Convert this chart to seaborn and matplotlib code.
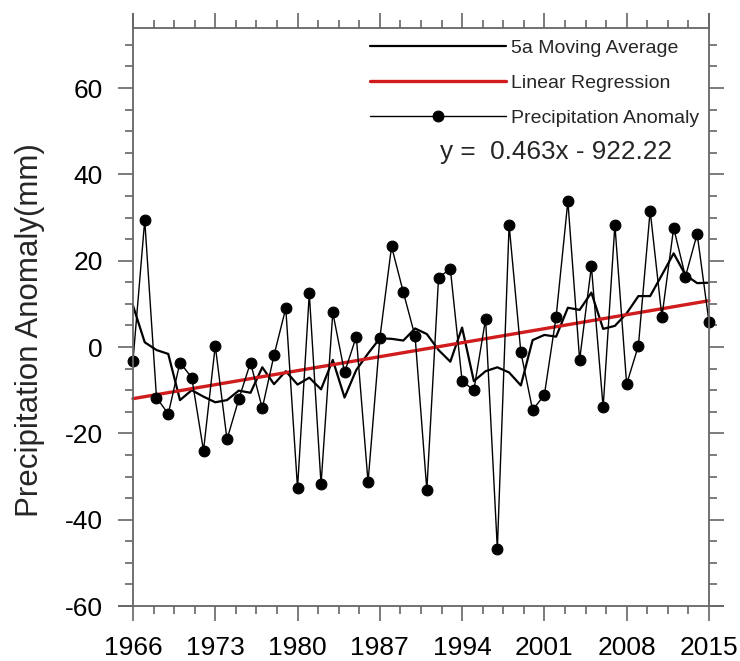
import numpy as np
import pandas as pd
import seaborn as sns
import matplotlib.pyplot as plt
from matplotlib.ticker import FixedLocator

# Data
years = list(range(1966, 2016))
anomaly = [-3.2, 29.4, -11.7, -15.5, -3.6, -7.1, -24.0, 0.3, -21.4, -12.1,
           -3.6, -14.2, -1.9, 9.0, -32.7, 12.4, -31.8, 8.0, -5.9, 2.4,
           -31.3, 2.0, 23.3, 12.7, 2.5, -33.1, 16.1, 18.1, -7.9, -10.0,
           6.5, -46.8, 28.3, -1.2, -14.6, -11.1, 7.0, 33.8, -3.0, 18.7,
           -14.0, 28.3, -8.6, 0.3, 31.6, 7.0, 27.6, 16.3, 26.2, 5.9]
moving_avg = [9.6, 1.1, -0.7, -1.6, -12.3, -10.0, -11.5, -12.8, -12.3, -10.1,
              -10.6, -4.7, -8.6, -5.6, -8.7, -7.1, -9.8, -3.0, -11.7, -5.3,
              -1.5, 2.0, 1.9, 1.5, 4.3, 3.0, -0.7, -3.4, 4.5, -7.9,
              -5.6, -4.7, -5.9, -8.9, 1.6, 2.8, 2.4, 9.1, 8.6, 12.6,
              4.2, 4.9, 7.8, 11.8, 11.8, 16.7, 21.7, 16.7, 14.8, 14.9]
slope, intercept = 0.463, -922.22
xticks = [1966, 1973, 1980, 1987, 1994, 2001, 2008, 2015]
yticks = [-60, -40, -20, 0, 20, 40, 60]

df = pd.DataFrame({'year': years, 'anomaly': anomaly, 'ma': moving_avg})
df['fit'] = slope * df['year'] + intercept

sns.set_style('ticks')
plt.rcParams['font.family'] = ['Liberation Sans', 'DejaVu Sans']
plt.rcParams['axes.unicode_minus'] = False

fig = plt.figure(figsize=(7.4, 6.61), dpi=100)
ax = fig.add_axes([0.1797, 0.0832, 0.958 - 0.1797, 0.9576 - 0.0832])

sns.lineplot(data=df, x='year', y='ma', ax=ax, color='black', lw=1.6,
             label='5a Moving Average', clip_on=False)
sns.lineplot(data=df, x='year', y='fit', ax=ax, color='#d01c1c', lw=2.4,
             label='Linear Regression', clip_on=False)
sns.lineplot(data=df, x='year', y='anomaly', ax=ax, color='black', lw=1.0,
             marker='o', markersize=7.8, markeredgecolor='black',
             label='Precipitation Anomaly', clip_on=False)

ymax = 73.9
ax.set_xlim(1966, 2015)
ax.set_ylim(-60, ymax)

ax.xaxis.set_major_locator(FixedLocator(xticks))
ax.xaxis.set_minor_locator(FixedLocator(np.arange(1966, 2015.1, 1.75)))
ax.yaxis.set_major_locator(FixedLocator(yticks))
ax.yaxis.set_minor_locator(FixedLocator(np.arange(-60, 71, 5)))

axcol = '#666666'
ax.tick_params(which='both', direction='out', top=True, right=True,
               color=axcol, width=1.2, labelsize=19, labelcolor='black')
ax.tick_params(which='major', length=10.5, pad=11)
ax.tick_params(which='minor', length=5.5)

for s in ax.spines.values():
    s.set_color(axcol)
    s.set_linewidth(1.3)
ax.spines['bottom'].set_bounds(1966 - 1.2, 2015 + 1.2)
ax.spines['left'].set_bounds(-60, ymax + 3.3)
ax.spines['right'].set_bounds(-60, ymax + 3.3)

ax.set_xlabel('')
ax.set_ylabel('')
fig.text(0.041, 0.5, 'Precipitation Anomaly(mm)', rotation=90, fontsize=22.5,
         ha='center', va='center')

ax.legend(loc='upper left', bbox_to_anchor=(370 / 740, 1 - 39 / 661),
          bbox_transform=fig.transFigure, frameon=False, fontsize=14,
          handlelength=7.0, handletextpad=0.25, borderpad=0, borderaxespad=0,
          labelspacing=0.9, numpoints=1)

fig.text(440 / 740, 1 - 159 / 661, 'y =  0.463x - 922.22', fontsize=18.8,
         ha='left', va='baseline')

fig.savefig('out.png', dpi=100)
